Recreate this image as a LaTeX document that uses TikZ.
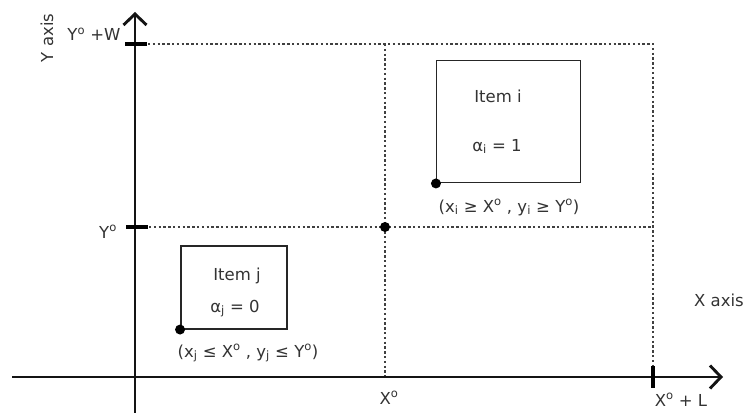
\documentclass[tikz,border=0pt]{standalone}
\usepackage{fontspec}
\setmainfont{DejaVu Sans}
\usetikzlibrary{arrows.meta}
\definecolor{txtgray}{HTML}{333333}
\begin{document}
\begin{tikzpicture}[x=1pt,y=-1pt,
  axisline/.style={line width=2.9pt, draw=black!92, -{Straight Barb[length=11pt,width=23pt]}},
  tickmark/.style={line width=4pt, draw=black},
  guide/.style={line width=1.4pt, draw=black!75, dash pattern=on 2.4pt off 2.4pt},
  itembox/.style={draw=black!85, line width=1.5pt, rectangle, inner sep=0pt},
  corner/.style={circle, fill=black, inner sep=0pt, minimum size=10pt},
  lbl/.style={font=\fontsize{16.5}{19}\selectfont, text=txtgray, inner sep=0pt, anchor=base}
]
\useasboundingbox (0,0) rectangle (749,412);

% axes coordinates
\coordinate (ybot) at (135,420);
\coordinate (ytop) at (135,12);
\coordinate (xleft) at (12,377);
\coordinate (xright) at (723,377);
\draw[axisline] (ybot) -- (ytop);
\draw[axisline] (xleft) -- (xright);

% ticks
\coordinate (tW1) at (125,44); \coordinate (tW2) at (147,44);
\coordinate (tY1) at (126,227); \coordinate (tY2) at (148,227);
\coordinate (tL1) at (653,366); \coordinate (tL2) at (653,388);
\draw[tickmark] (tW1) -- (tW2);
\draw[tickmark] (tY1) -- (tY2);
\draw[tickmark] (tL1) -- (tL2);

% guide lines
\coordinate (gWl) at (148,44); \coordinate (gWr) at (653,44);
\coordinate (gYl) at (149,227); \coordinate (gYr) at (653,227);
\coordinate (gXt) at (385,44); \coordinate (gXb) at (385,376);
\coordinate (gLb) at (653,365);
\draw[guide] (gWl) -- (gWr) -- (gLb);
\draw[guide] (gYl) -- (gYr);
\draw[guide] (gXt) -- (gXb);

% middle point
\node[corner] (mid) at (385,227) {};

% item i
\node[itembox, minimum width=144pt, minimum height=122pt] (boxi) at (508.7,121.7) {};
\node[corner] (ci) at (boxi.south west) {};
\node[lbl] (itemi) at (498,102) {Item i};
\node[lbl] (alphai) at (497,151) {α\textsubscript{i} = 1};
\node[lbl] (condi) at (509,212) {(x\textsubscript{i} ≥ X\textsuperscript{o} , y\textsubscript{i} ≥ Y\textsuperscript{o})};

% item j
\node[itembox, minimum width=106pt, minimum height=83pt] (boxj) at (233.8,287.3) {};
\node[corner] (cj) at (boxj.south west) {};
\node[lbl] (itemj) at (237,280) {Item j};
\node[lbl] (alphaj) at (235,312) {α\textsubscript{j} = 0};
\node[lbl] (condj) at (248,357) {(x\textsubscript{j} ≤ X\textsuperscript{o} , y\textsubscript{j} ≤ Y\textsuperscript{o})};

% axis labels
\node[lbl, anchor=center, rotate=90] (yaxis) at (47,38) {Y axis};
\node[lbl] (yw) at (94,41) {Y\textsuperscript{o} +W};
\node[lbl] (yo) at (108,238) {Y\textsuperscript{o}};
\node[lbl] (xaxis) at (719,306) {X axis};
\node[lbl] (xo) at (389,404) {X\textsuperscript{o}};
\node[lbl] (xl) at (681,406) {X\textsuperscript{o} + L};
\end{tikzpicture}
\end{document}
